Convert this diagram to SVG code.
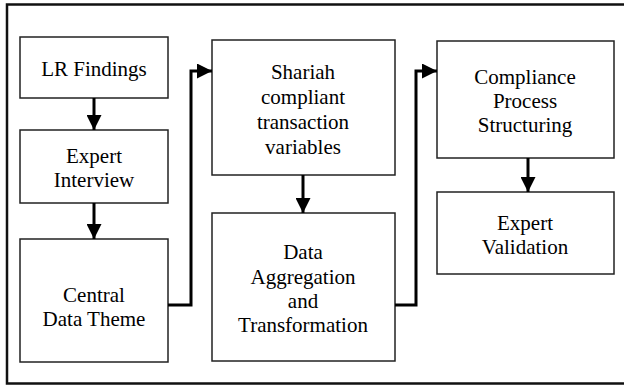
<svg xmlns="http://www.w3.org/2000/svg" width="624" height="385" viewBox="0 0 624 385">
<style>
.box{fill:#fff;stroke:#222;stroke-width:1.5}
.t{font-family:'Liberation Serif','Times New Roman',serif;font-size:21px;fill:#000;text-anchor:middle}
.c{fill:none;stroke:#000;stroke-width:3}
</style>
<defs>
<marker id="ah" markerWidth="5" markerHeight="5" refX="5" refY="2.5" orient="auto" markerUnits="strokeWidth">
<path d="M0,0 L5,2.5 L0,5 Z" fill="#000"/>
</marker>
</defs>
<rect x="0" y="0" width="624" height="385" fill="#fff"/>
<path d="M630,4.5 H7 V383.5 H630" fill="none" stroke="#111" stroke-width="2.5"/>
<g id="lr-findings"><rect class="box" x="20" y="37" width="148" height="61"/><text class="t" x="94" y="76">LR Findings</text></g>
<g id="expert-interview"><rect class="box" x="20" y="130" width="148" height="73"/><text class="t" x="94" y="163">Expert</text><text class="t" x="94" y="187">Interview</text></g>
<g id="central-data-theme"><rect class="box" x="20" y="239" width="148" height="123"/><text class="t" x="94" y="302">Central</text><text class="t" x="94" y="326">Data Theme</text></g>
<g id="shariah"><rect class="box" x="212" y="40" width="183" height="135"/><text class="t" x="303" y="79">Shariah</text><text class="t" x="303" y="104">compliant</text><text class="t" x="303" y="129">transaction</text><text class="t" x="303" y="154">variables</text></g>
<g id="data-aggregation"><rect class="box" x="212" y="213" width="183" height="148"/><text class="t" x="303" y="259">Data</text><text class="t" x="303" y="284">Aggregation</text><text class="t" x="303" y="308">and</text><text class="t" x="303" y="332">Transformation</text></g>
<g id="compliance"><rect class="box" x="437" y="41" width="177" height="117"/><text class="t" x="525" y="84">Compliance</text><text class="t" x="525" y="108">Process</text><text class="t" x="525" y="132">Structuring</text></g>
<g id="expert-validation"><rect class="box" x="437" y="192" width="177" height="82"/><text class="t" x="525" y="230">Expert</text><text class="t" x="525" y="254">Validation</text></g>
<g id="connectors">
<path class="c" d="M94,98 V130" marker-end="url(#ah)"/>
<path class="c" d="M94,203 V239" marker-end="url(#ah)"/>
<path class="c" d="M168,305 H191 V71 H212" marker-end="url(#ah)"/>
<path class="c" d="M303,175 V213" marker-end="url(#ah)"/>
<path class="c" d="M395,305 H416 V71 H437" marker-end="url(#ah)"/>
<path class="c" d="M528,158 V192" marker-end="url(#ah)"/>
</g>
</svg>
